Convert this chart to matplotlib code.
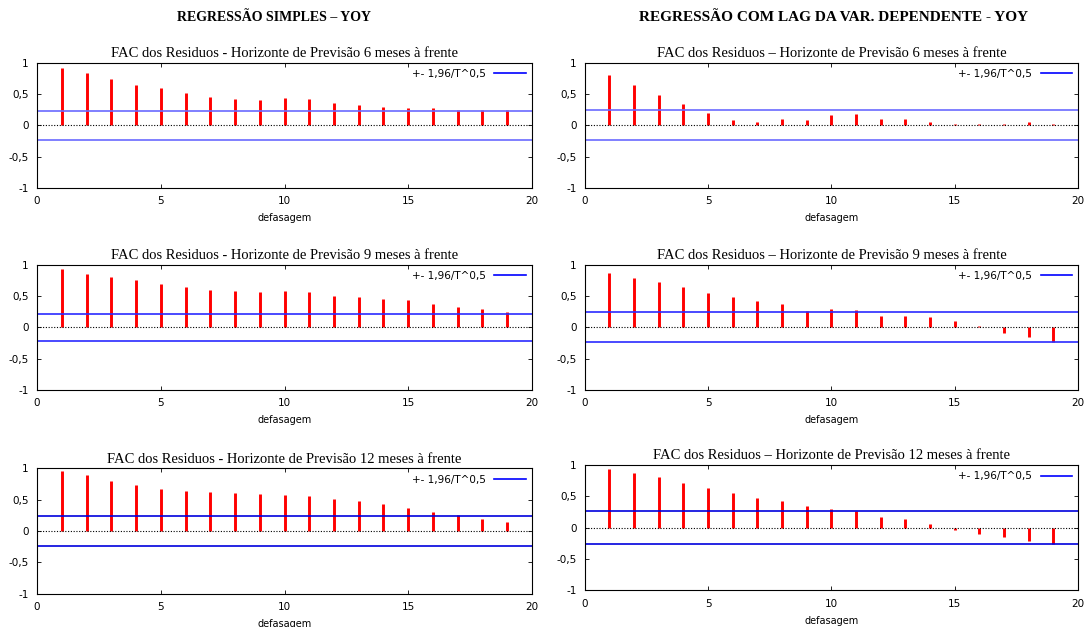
import numpy as np
import matplotlib
matplotlib.use("Agg")
import matplotlib.pyplot as plt

lags = np.arange(1, 20)

# FAC dos residuos - regressao simples
simples_6 = [0.92, 0.83, 0.74, 0.65, 0.59, 0.52, 0.46, 0.42, 0.40, 0.43,
             0.42, 0.35, 0.32, 0.29, 0.28, 0.27, 0.25, 0.245, 0.245]
simples_9 = [0.93, 0.85, 0.80, 0.75, 0.69, 0.64, 0.60, 0.58, 0.57, 0.58,
             0.57, 0.50, 0.49, 0.455, 0.43, 0.37, 0.32, 0.285, 0.24]
simples_12 = [0.95, 0.89, 0.80, 0.73, 0.67, 0.645, 0.63, 0.61, 0.59, 0.57,
              0.555, 0.51, 0.48, 0.43, 0.37, 0.31, 0.26, 0.195, 0.14]

# FAC dos residuos - regressao com lag da var. dependente
lag_6 = [0.81, 0.64, 0.48, 0.335, 0.20, 0.09, 0.06, 0.095, 0.085, 0.16,
         0.185, 0.11, 0.105, 0.055, 0.03, 0.015, 0.03, 0.055, 0.03]
lag_9 = [0.86, 0.78, 0.73, 0.645, 0.55, 0.49, 0.42, 0.37, 0.265, 0.29,
         0.275, 0.185, 0.185, 0.165, 0.10, 0.015, -0.095, -0.15, -0.235]
lag_12 = [0.93, 0.87, 0.80, 0.71, 0.63, 0.55, 0.48, 0.425, 0.345, 0.30,
          0.26, 0.175, 0.13, 0.06, -0.03, -0.10, -0.155, -0.21, -0.265]

# limites de confianca +- 1,96/T^0,5
bands_simples = [0.225, 0.22, 0.24]
bands_lag = [0.24, 0.242, 0.26]

horizontes = [6, 9, 12]
header_left = "REGRESSÃO SIMPLES – YOY"
header_right = "REGRESSÃO COM LAG DA VAR. DEPENDENTE - YOY"
legend_label = "+- 1,96/T^0,5"

fig = plt.figure(figsize=(10.89, 6.27), dpi=100)

lefts = [0.034, 0.537]
widths = [0.4545, 0.453]
bottoms = [[0.700, 0.378, 0.0531], [0.700, 0.378, 0.0585]]
height = 0.2

band_colors = ['#6a6aff', '#2a2aff', '#0000dd']


def acf_panel(ax, vals, band, title, bcolor):
    ax.vlines(lags, 0, vals, colors='#ff0000', linewidth=2.1)
    ax.axhline(0, color='black', linestyle=(0, (1, 1.5)), linewidth=0.8)
    ax.axhline(band, color=bcolor, linewidth=1.2, label=legend_label)
    ax.axhline(-band, color=bcolor, linewidth=1.2)
    ax.set_xlim(0, 20)
    ax.set_ylim(-1, 1)
    ax.set_xticks([0, 5, 10, 15, 20])
    ax.set_yticks([-1, -0.5, 0, 0.5, 1])
    ax.set_yticklabels(['-1', '-0,5', '0', '0,5', '1'])
    ax.tick_params(direction='in', top=True, right=True, length=3,
                   labelsize=7.5, pad=6, width=0.6)
    for s in ax.spines.values():
        s.set_linewidth(0.8)
    ax.set_xlabel('defasagem', fontsize=7, labelpad=5)
    ax.set_title(title, family='Liberation Serif', fontsize=10.5, pad=4)
    leg = ax.legend(loc='upper right', frameon=False, fontsize=7.5,
                    markerfirst=False, handlelength=3, borderaxespad=0.2)
    for h in leg.get_lines():
        h.set_color('blue')


for col, (series, bands, dash) in enumerate([
        ([simples_6, simples_9, simples_12], bands_simples, '-'),
        ([lag_6, lag_9, lag_12], bands_lag, '–')]):
    for row in range(3):
        ax = fig.add_axes([lefts[col], bottoms[col][row], widths[col], height])
        title = ('FAC dos Residuos ' + dash + ' Horizonte de Previsão '
                 + str(horizontes[row]) + ' meses à frente')
        acf_panel(ax, series[row], bands[row], title, band_colors[row])

fig.text(0.252, 0.972, header_left, family='Liberation Serif',
         fontweight='bold', fontsize=10, ha='center', va='center')
fig.text(0.765, 0.972, header_right, family='Liberation Serif',
         fontweight='bold', fontsize=11, ha='center', va='center')

fig.savefig('out.png', dpi=100)
